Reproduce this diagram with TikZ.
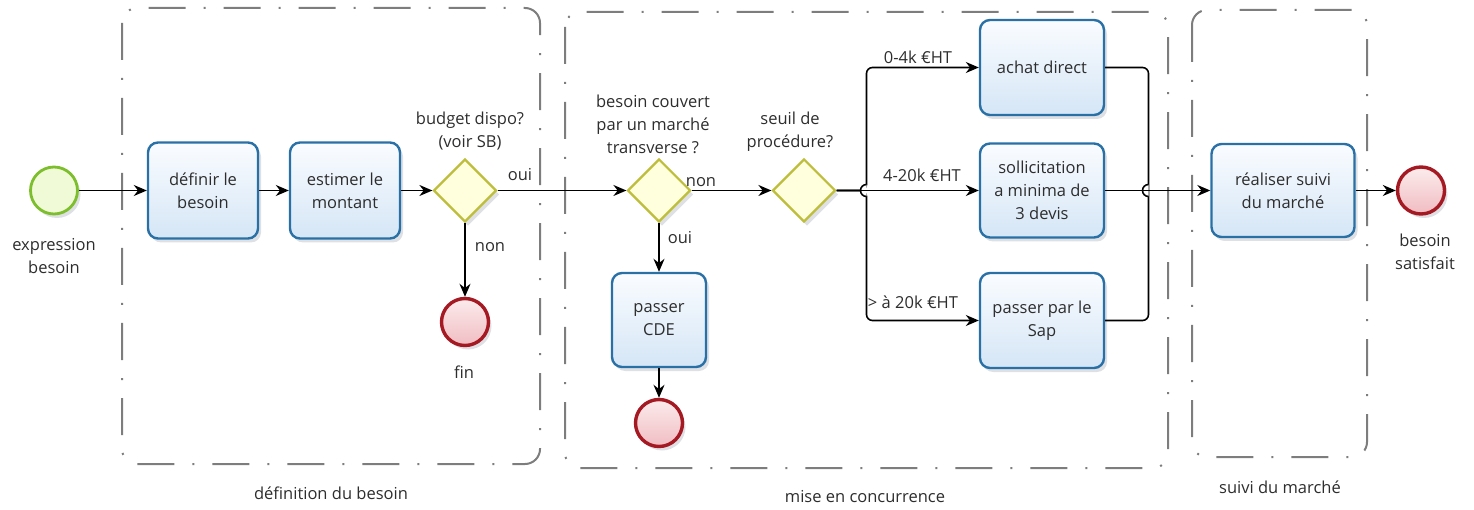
\documentclass[tikz,border=0pt]{standalone}
\usepackage{fontspec}
\setmainfont{Open Sans}
\usetikzlibrary{shapes.geometric,arrows.meta,shadows,calc}
\definecolor{boxline}{RGB}{40,112,165}
\definecolor{boxtop}{RGB}{250,252,255}
\definecolor{boxbot}{RGB}{213,230,246}
\definecolor{gwline}{RGB}{190,190,60}
\definecolor{gwfill}{RGB}{255,255,222}
\definecolor{stline}{RGB}{125,190,45}
\definecolor{stfill}{RGB}{240,250,215}
\definecolor{enline}{RGB}{165,25,35}
\definecolor{entop}{RGB}{252,236,236}
\definecolor{enbot}{RGB}{240,188,194}
\definecolor{grp}{RGB}{125,125,125}
\definecolor{txt}{RGB}{45,45,45}
\definecolor{shd}{RGB}{222,224,228}
\tikzset{
  shd/.style={drop shadow={fill=shd, opacity=1, shadow xshift=3pt, shadow yshift=-4pt}},
  base/.style={font=\fontsize{16.5}{23}\selectfont, text=txt},
  task/.style={base, draw=boxline, line width=2.4pt, rounded corners=10pt, top color=boxtop, bottom color=boxbot, align=center, inner sep=0pt, shd},
  gate/.style={diamond, draw=gwline, line width=2.2pt, fill=gwfill, minimum width=63pt, minimum height=63pt, inner sep=0pt, aspect=1, shd},
  startev/.style={circle, draw=stline, line width=2.8pt, fill=stfill, minimum size=47pt, inner sep=0pt, shd},
  endev/.style={circle, draw=enline, line width=3.4pt, top color=entop, bottom color=enbot, minimum size=47pt, inner sep=0pt, shd},
  lbl/.style={base, align=center, inner sep=0pt},
  group/.style={draw=grp, line width=2pt, rounded corners=15pt, dash pattern=on 37pt off 18pt on 2pt off 18pt},
  flow/.style={draw=black, line width=1.6pt, -{Stealth[length=13pt,width=11pt]}},
  plain/.style={draw=black, line width=1.6pt},
}
\begin{document}
\begin{tikzpicture}[x=1pt,y=-1pt]
\useasboundingbox (0,0) rectangle (1474,510);
% groups
\draw[group] (122,8) rectangle (540,464);
\draw[group] (565,12) rectangle (1168,468);
\draw[group] (1192,10) rectangle (1367,457);
\node[lbl] (g1) at (331,493) {définition du besoin};
\node[lbl] (g2) at (865,497) {mise en concurrence};
\node[lbl] (g3) at (1280,487) {suivi du marché};
% nodes
\node[startev] (st) at (54,190.5) {};
\node[lbl] (stl) at (54,256) {expression\\besoin};
\node[task, minimum width=110pt, minimum height=96pt] (def) at (203,190.5) {définir le\\besoin};
\node[task, minimum width=110pt, minimum height=96pt] (est) at (345,190.5) {estimer le\\montant};
\node[gate] (d1) at (465,190.5) {};
\node[lbl] (d1l) at (470,131) {budget dispo?\\(voir SB)};
\node[endev] (fin) at (465,322) {};
\node[lbl] (finl) at (464,372) {fin};
\node[gate] (d2) at (659,190.5) {};
\node[lbl] (d2l) at (653,124) {besoin couvert\\par un marché\\transverse ?};
\node[task, minimum width=94pt, minimum height=94pt] (cde) at (659,320) {passer\\CDE};
\node[endev] (e2) at (659,423) {};
\node[gate] (d3) at (804,190.5) {};
\node[lbl] (d3l) at (790,132) {seuil de\\procédure?};
\node[task, minimum width=124pt, minimum height=95pt] (ach) at (1042,67.5) {achat direct};
\node[task, minimum width=124pt, minimum height=94pt] (sol) at (1042,190.5) {sollicitation\\a minima de\\3 devis};
\node[task, minimum width=124pt, minimum height=95pt] (sap) at (1042,320.5) {passer par le\\Sap};
\node[task, minimum width=143pt, minimum height=93pt] (rea) at (1283,190.5) {réaliser suivi\\du marché};
\node[endev] (e3) at (1421,190.5) {};
\node[lbl] (e3l) at (1425,252) {besoin\\satisfait};
\coordinate (sp) at (866.5,190.5);
\coordinate (mg) at (1148.5,190.5);
% flows
\draw[flow] (st) -- (def);
\draw[flow] (def) -- (est);
\draw[flow] (est) -- (d1);
\draw[flow] (d1) -- (d2);
\node[lbl] (oui1) at (520,175) {oui};
\draw[flow] (d1) -- (fin);
\node[lbl] (non1) at (490,247) {non};
\draw[flow] (d2) -- (d3);
\node[lbl] (non2) at (701,182) {non};
\draw[flow] (d2) -- (cde);
\node[lbl] (oui2) at (680,238) {oui};
\draw[flow] (cde) -- (e2);
\draw[flow, rounded corners=6pt] (d3.east) -- (sp) |- (ach.west);
\draw[flow, rounded corners=6pt] (d3.east) -- (sp) |- (sap.west);
\draw[flow] (d3) -- (sol);
\node[lbl] (c1) at (918,57) {0-4k €HT};
\node[lbl] (c2) at (922,175) {4-20k €HT};
\node[lbl] (c3) at (913,302) {> à 20k €HT};
\draw[plain, rounded corners=6pt] (ach.east) -| (mg);
\draw[plain, rounded corners=6pt] (sap.east) -| (mg);
\draw[flow] (sol) -- (rea);
\draw[flow] (rea) -- (e3);
% line hops
\draw[plain, fill=white] ([yshift=6pt]sp) arc[start angle=90, end angle=270, radius=6pt];
\draw[plain] ([xshift=-8pt]sp) -- ([xshift=4pt]sp);
\draw[plain, fill=white] ([yshift=6pt]mg) arc[start angle=90, end angle=270, radius=6pt];
\draw[plain] ([xshift=-8pt]mg) -- ([xshift=4pt]mg);
\end{tikzpicture}
\end{document}
